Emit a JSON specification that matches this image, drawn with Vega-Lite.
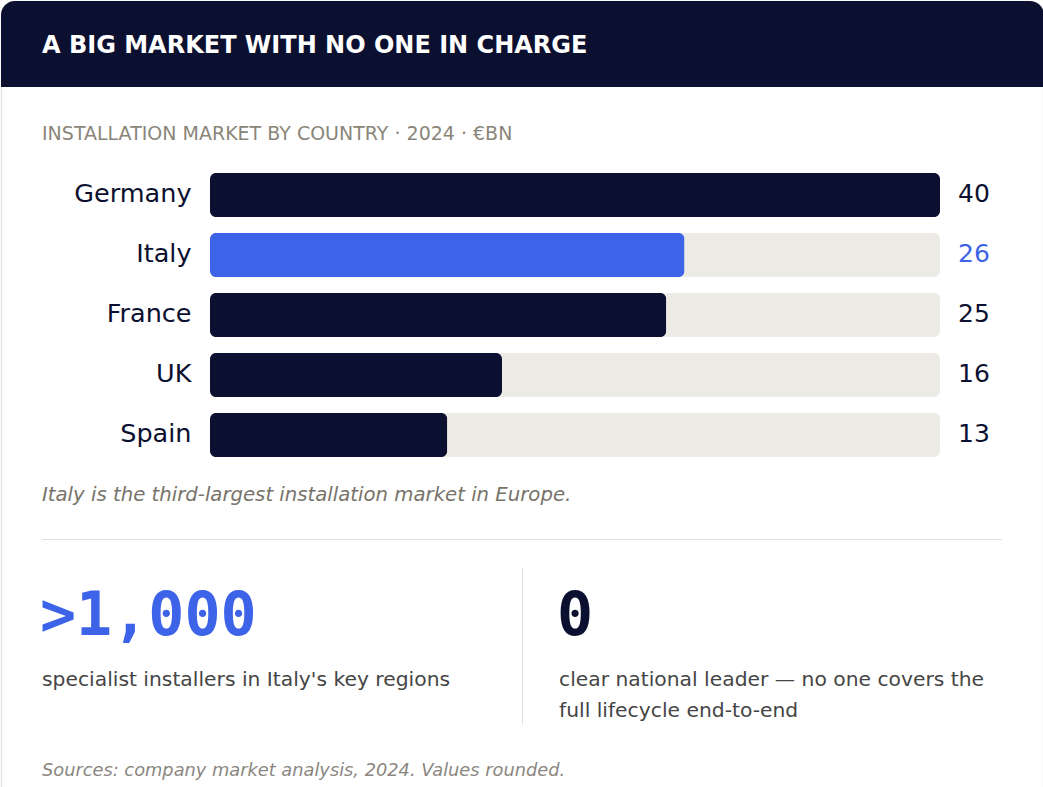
{
  "$schema": "https://vega.github.io/schema/vega-lite/v6.json",
  "width": 1043,
  "height": 787,
  "autosize": {"type": "fit", "contains": "padding"},
  "padding": 0,
  "background": "#ffffff",
  "config": {"view": {"stroke": null}, "font": "DejaVu Sans"},
  "datasets": {
    "markets": [
      {"country": "Germany", "value": 40},
      {"country": "Italy", "value": 26},
      {"country": "France", "value": 25},
      {"country": "UK", "value": 16},
      {"country": "Spain", "value": 13}
    ]
  },
  "layer": [
    {
      "data": {"values": [{}]},
      "mark": {"type": "rect", "fill": "#ffffff", "stroke": "#e6e6e6", "strokeWidth": 1.5, "cornerRadius": 14},
      "encoding": {"x": {"value": 0.5}, "x2": {"value": 1042.5}, "y": {"value": 0.5}, "y2": {"value": 820}}
    },
    {
      "data": {"values": [{}]},
      "mark": {"type": "rect", "fill": "#0c1030", "cornerRadiusTopLeft": 14, "cornerRadiusTopRight": 14},
      "encoding": {"x": {"value": 0}, "x2": {"value": 1043}, "y": {"value": 0}, "y2": {"value": 86}}
    },
    {
      "data": {"values": [{"t": "A BIG MARKET WITH NO ONE IN CHARGE"}]},
      "mark": {"type": "text", "align": "left", "baseline": "alphabetic", "fontSize": 24, "fontWeight": "bold", "fill": "#ffffff"},
      "encoding": {"x": {"value": 41}, "y": {"value": 52}, "text": {"field": "t"}}
    },
    {
      "data": {"values": [{"t": "INSTALLATION MARKET BY COUNTRY · 2024 · €BN"}]},
      "mark": {"type": "text", "align": "left", "baseline": "alphabetic", "fontSize": 19, "fill": "#8a8579"},
      "encoding": {"x": {"value": 41}, "y": {"value": 139}, "text": {"field": "t"}}
    },
    {
      "data": {"name": "markets"},
      "mark": {"type": "rect", "fill": "#ecebe6", "cornerRadius": 6},
      "encoding": {
        "y": {"field": "country", "type": "nominal", "sort": null,
              "scale": {"range": [172, 456], "paddingInner": 0.26667, "paddingOuter": 0},
              "axis": {"orient": "left", "offset": -209, "domain": false, "ticks": false, "grid": false, "labelPadding": 19, "labelFontSize": 25.5, "labelColor": "#0c1030", "labelFont": "DejaVu Sans", "labelOffset": -1, "title": null}},
        "x": {"datum": 0, "type": "quantitative", "scale": {"domain": [0, 40], "range": [209, 939]}, "axis": null},
        "x2": {"datum": 40}
      }
    },
    {
      "data": {"name": "markets"},
      "mark": {"type": "bar", "cornerRadius": 6},
      "encoding": {
        "y": {"field": "country", "type": "nominal", "sort": null},
        "x": {"field": "value", "type": "quantitative"},
        "color": {"condition": {"test": "datum.country === 'Italy'", "value": "#3d63e8"}, "value": "#0c1030"}
      }
    },
    {
      "data": {"name": "markets"},
      "mark": {"type": "text", "align": "left", "baseline": "middle", "fontSize": 25, "dy": -1},
      "encoding": {
        "y": {"field": "country", "type": "nominal", "sort": null},
        "x": {"value": 957},
        "text": {"field": "value", "type": "quantitative"},
        "color": {"condition": {"test": "datum.country === 'Italy'", "value": "#3d63e8"}, "value": "#0c1030"}
      }
    },
    {
      "data": {"values": [{"t": "Italy is the third-largest installation market in Europe."}]},
      "mark": {"type": "text", "align": "left", "baseline": "alphabetic", "fontSize": 19.7, "fontStyle": "italic", "fill": "#77736a"},
      "encoding": {"x": {"value": 41}, "y": {"value": 500}, "text": {"field": "t"}}
    },
    {
      "data": {"values": [{}]},
      "mark": {"type": "rule", "stroke": "#e4e0d8", "strokeWidth": 1},
      "encoding": {"x": {"value": 41}, "x2": {"value": 1001}, "y": {"value": 538.5}, "y2": {"value": 538.5}}
    },
    {
      "data": {"values": [{}]},
      "mark": {"type": "rule", "stroke": "#e4e0d8", "strokeWidth": 1},
      "encoding": {"x": {"value": 521.5}, "x2": {"value": 521.5}, "y": {"value": 567}, "y2": {"value": 724}}
    },
    {
      "data": {"values": [{"t": ">1,000"}]},
      "mark": {"type": "text", "align": "left", "baseline": "alphabetic", "font": "DejaVu Sans Mono", "fontSize": 60, "fontWeight": "bold", "fill": "#3d63e8"},
      "encoding": {"x": {"value": 39}, "y": {"value": 634}, "text": {"field": "t"}}
    },
    {
      "data": {"values": [{"t": "0"}]},
      "mark": {"type": "text", "align": "left", "baseline": "alphabetic", "font": "DejaVu Sans Mono", "fontSize": 60, "fontWeight": "bold", "fill": "#0c1030"},
      "encoding": {"x": {"value": 556}, "y": {"value": 634}, "text": {"field": "t"}}
    },
    {
      "data": {"values": [{"t": "specialist installers in Italy's key regions"}]},
      "mark": {"type": "text", "align": "left", "baseline": "alphabetic", "fontSize": 20.3, "fill": "#454545"},
      "encoding": {"x": {"value": 41}, "y": {"value": 685}, "text": {"field": "t"}}
    },
    {
      "data": {"values": [{"t": "clear national leader — no one covers the\nfull lifecycle end-to-end"}]},
      "mark": {"type": "text", "align": "left", "baseline": "alphabetic", "fontSize": 20.3, "lineHeight": 31, "lineBreak": "\n", "fill": "#454545"},
      "encoding": {"x": {"value": 558}, "y": {"value": 685}, "text": {"field": "t"}}
    },
    {
      "data": {"values": [{"t": "Sources: company market analysis, 2024. Values rounded."}]},
      "mark": {"type": "text", "align": "left", "baseline": "alphabetic", "fontSize": 17.8, "fontStyle": "italic", "fill": "#8a8680"},
      "encoding": {"x": {"value": 41}, "y": {"value": 775}, "text": {"field": "t"}}
    }
  ]
}
